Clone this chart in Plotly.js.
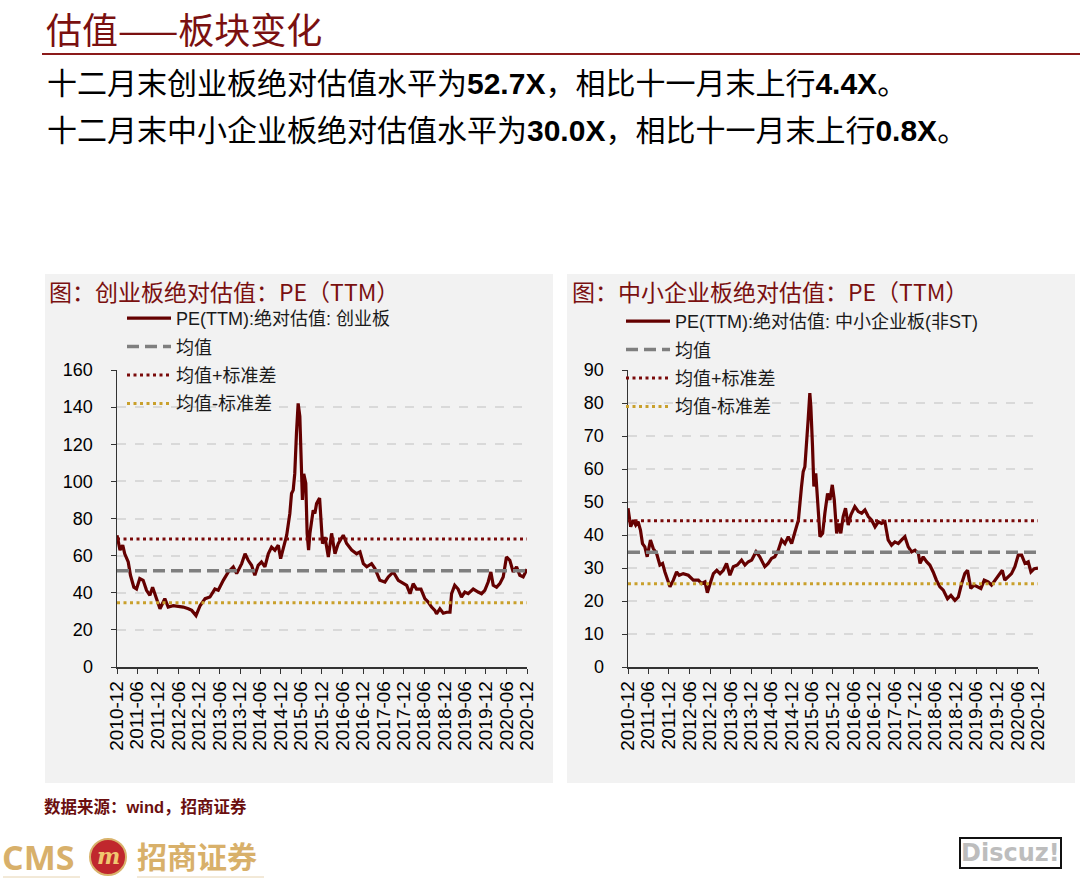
<!DOCTYPE html>
<html>
<head>
<meta charset="utf-8">
<script src="https://cdn.plot.ly/plotly-3.0.1.min.js"></script>
<style>
  html, body { margin: 0; padding: 0; background: #fff; }
  #plot { width: 1080px; height: 879px; }
</style>
</head>
<body>
<div id="plot"></div>
<script>
// 创业板 PE(TTM)
var cybDates = ['2010-12-31','2011-01-27','2011-02-20','2011-03-10','2011-04-10','2011-04-30','2011-05-30','2011-06-23',
  '2011-07-22','2011-08-21','2011-09-20','2011-10-20','2011-11-13','2011-12-12','2012-01-18','2012-03-01','2012-03-31',
  '2012-05-15','2012-06-29','2012-08-12','2012-09-27','2012-10-27','2012-12-04','2013-01-09','2013-02-23','2013-04-07',
  '2013-05-21','2013-06-20','2013-08-04','2013-09-18','2013-11-01','2013-12-01','2014-01-15','2014-02-14','2014-03-14',
  '2014-04-13','2014-05-12','2014-06-11','2014-07-10','2014-08-10','2014-09-09','2014-10-08','2014-11-07','2014-12-07',
  '2014-12-28','2015-01-21','2015-02-20','2015-03-20','2015-04-04','2015-04-19','2015-05-03','2015-05-18','2015-06-02',
  '2015-06-17','2015-07-01','2015-07-10','2015-07-22','2015-08-09','2015-08-21','2015-09-03','2015-09-15','2015-10-14',
  '2015-10-29','2015-11-13','2015-12-10','2016-01-05','2016-01-27','2016-02-26','2016-03-26','2016-04-25','2016-05-24',
  '2016-07-08','2016-08-07','2016-09-21','2016-11-04','2016-12-04','2017-01-03','2017-02-02','2017-03-17','2017-04-16',
  '2017-05-30','2017-07-14','2017-08-13','2017-09-27','2017-11-10','2017-12-25','2018-01-24','2018-02-23','2018-03-23',
  '2018-04-22','2018-05-31','2018-07-05','2018-08-04','2018-09-03','2018-10-02','2018-10-17','2018-11-16','2018-12-16',
  '2019-01-15','2019-02-14','2019-02-28','2019-03-28','2019-04-27','2019-05-27','2019-06-26','2019-07-26','2019-09-09',
  '2019-10-23','2019-11-22','2019-12-21','2020-01-20','2020-02-13','2020-03-05','2020-04-04','2020-05-03','2020-06-02',
  '2020-07-01','2020-07-31','2020-08-30','2020-09-29','2020-10-28','2020-11-27','2020-12-31'];
var cybPE = [71,63,65.6,61,56.6,49.4,43,42,
  47.6,46.7,41.3,38.6,43,37.7,31.4,36.8,32.3,
  33,32.6,32.3,31.4,30.5,27.7,33,36.8,37.7,
  42,41.3,46.7,51.2,53.9,50.3,55.7,61,57.5,
  54.8,49.4,54.8,56.6,53.9,61,64.6,62.9,65.6,
  58.4,64.6,71,82.7,93.5,95.3,104.3,126,142,
  135,113,90,104,99,72,63,72,84.5,
  82.7,88,91,66.5,70,59.3,72,61,66.5,
  71,66.5,63,61,62,55.7,54,55.7,53,
  46.7,45.8,48.5,51.2,46.7,44.9,44,39.5,44.9,
  42,42,36.8,35,32.3,30.5,28.6,31.4,29,
  29.5,29.5,39.5,44,42,37.7,40.4,39.5,42,
  40.4,39.5,41.3,45.8,51.2,44,43,44.9,48.5,
  59.3,57.5,51.2,53.9,49.4,48.5,52.7];

// 中小企业板(非ST) PE(TTM)
var zxbDates = ['2010-12-31','2011-01-24','2011-02-17','2011-03-10','2011-03-31','2011-04-21','2011-05-09','2011-05-30',
  '2011-06-20','2011-07-19','2011-08-13','2011-09-12','2011-10-11','2011-11-04','2011-11-25','2012-01-09','2012-02-08',
  '2012-03-08','2012-03-31','2012-05-06','2012-06-20','2012-08-04','2012-09-18','2012-10-17','2012-11-16','2012-12-07',
  '2013-01-01','2013-01-30','2013-03-01','2013-03-30','2013-04-28','2013-05-27','2013-06-26','2013-07-26','2013-08-31',
  '2013-10-08','2013-11-07','2013-12-07','2014-01-06','2014-02-14','2014-03-19','2014-05-03','2014-06-02','2014-07-02',
  '2014-07-31','2014-08-31','2014-09-30','2014-10-29','2014-11-28','2014-12-28','2015-01-27','2015-02-26','2015-03-26',
  '2015-04-10','2015-04-25','2015-05-09','2015-05-24','2015-06-08','2015-06-17','2015-07-02','2015-07-14','2015-07-31',
  '2015-08-12','2015-08-28','2015-09-06','2015-09-30','2015-10-20','2015-11-13','2015-12-04','2015-12-25','2016-01-12',
  '2016-02-02','2016-02-23','2016-03-10','2016-03-31','2016-04-21','2016-05-15','2016-06-08','2016-07-13','2016-08-13',
  '2016-09-12','2016-10-11','2016-11-10','2016-12-10','2017-01-09','2017-02-08','2017-03-08','2017-04-07','2017-05-06',
  '2017-06-05','2017-07-05','2017-08-04','2017-09-03','2017-10-02','2017-11-01','2017-12-01','2017-12-31','2018-01-30',
  '2018-02-14','2018-03-14','2018-04-13','2018-05-12','2018-06-11','2018-07-10','2018-08-10','2018-09-09','2018-10-17',
  '2018-11-16','2018-12-22','2019-01-21','2019-02-20','2019-03-20','2019-04-13','2019-05-12','2019-06-11','2019-07-10',
  '2019-08-10','2019-09-09','2019-10-14','2019-11-13','2019-12-13','2020-01-12','2020-02-17','2020-03-10','2020-04-10',
  '2020-05-09','2020-06-08','2020-07-08','2020-08-07','2020-09-06','2020-10-05','2020-10-29','2020-11-28','2020-12-31'];
var zxbPE = [48.1,42.5,44.5,43,44,41.5,37.4,36.4,
  33.4,38.5,35.9,34.4,30.9,31.4,28.8,24.3,26.3,
  28.8,27.8,28.3,27.8,26.3,26.3,25.3,25.8,22.5,
  25.3,28.3,29.3,28.3,29.3,31.4,27.8,30.4,30.9,
  32.4,30.9,31.9,32.4,34.9,33.4,30.4,31.4,32.9,
  33.4,35.4,38.5,37.4,39.5,37.4,41,44.5,54.7,
  59.2,60.7,66.8,74.9,83,79,66.8,54.7,58.7,
  53.7,44.5,39.5,40.5,46.6,52.6,50.6,55.2,50.6,
  40.5,43.5,40.5,45.6,48.1,43,46.1,48.6,47.1,
  46.6,47.6,45.6,44.5,42.5,44,43.5,44,38.5,
  36.9,37.9,37.4,38.5,39.5,36.4,34.9,35.4,34.4,
  31.4,33.4,31.9,30.9,28.8,26.3,24.3,23.3,20.7,
  21.7,20.2,21.2,25.3,28.3,29.3,23.8,24.8,24.3,
  23.8,26.3,25.8,24.8,26.3,27.8,29.3,26.3,27.3,
  28.3,30.4,33.9,33.9,31.4,31.9,28.8,29.8,30.0];

var cybMean = 51.8, cybPlus = 69.0, cybMinus = 34.6;
var zxbMean = 34.8, zxbPlus = 44.3, zxbMinus = 25.2;

var tickLabels = ['2010-12','2011-06','2011-12','2012-06','2012-12','2013-06','2013-12','2014-06','2014-12','2015-06',
  '2015-12','2016-06','2016-12','2017-06','2017-12','2018-06','2018-12','2019-06','2019-12','2020-06','2020-12'];
var tickVals = tickLabels.map(function(t){ return t + (t.slice(5) === '12' ? '-31' : '-30'); });
var xStart = '2010-12-31', xEnd = '2020-12-31';

var W = 1080, H = 879;
function fx(p){ return p / W; }
function fy(p){ return 1 - p / H; }

var lineRed = '#640000';
var cjk = 'Liberation Sans, Noto Sans CJK SC, sans-serif';

function series(xs, ys, name, xa, ya, lg){
  return {x: xs, y: ys, mode: 'lines', name: name, xaxis: xa, yaxis: ya, legend: lg, legendgroup: lg + name,
    line: {color: lineRed, width: 3.2}};
}
function hline(v, name, style, xa, ya, lg){
  return {x: [xStart, xEnd], y: [v, v], mode: 'lines', name: name, xaxis: xa, yaxis: ya, legend: lg,
    legendgroup: lg + name, line: style};
}
var meanStyle = {color: '#7f7f7f', width: 3.5, dash: '12px,6px'};
var plusStyle = {color: '#7a0a0a', width: 3, dash: '3px,3.5px'};
var minusStyle = {color: '#c9a02c', width: 3, dash: '3px,3.5px'};

var data = [
  series(cybDates, cybPE, 'PE(TTM):绝对估值: 创业板', 'x', 'y', 'legend'),
  hline(cybMean, '均值', meanStyle, 'x', 'y', 'legend'),
  hline(cybPlus, '均值+标准差', plusStyle, 'x', 'y', 'legend'),
  hline(cybMinus, '均值-标准差', minusStyle, 'x', 'y', 'legend'),
  series(zxbDates, zxbPE, 'PE(TTM):绝对估值: 中小企业板(非ST)', 'x2', 'y2', 'legend2'),
  hline(zxbMean, '均值', meanStyle, 'x2', 'y2', 'legend2'),
  hline(zxbPlus, '均值+标准差', plusStyle, 'x2', 'y2', 'legend2'),
  hline(zxbMinus, '均值-标准差', minusStyle, 'x2', 'y2', 'legend2')
];

function xAxis(d0, d1, anchor){
  return {domain: [fx(d0), fx(d1)], anchor: anchor, type: 'date', range: [xStart, xEnd],
    tickmode: 'array', tickvals: tickVals, ticktext: tickLabels, tickangle: -90,
    ticks: 'outside', ticklen: 5, tickcolor: '#333', showline: true, linecolor: '#333', linewidth: 1.5,
    showgrid: false, zeroline: false, fixedrange: true,
    tickfont: {family: 'Liberation Sans, Arial, sans-serif', size: 19, color: '#000'}};
}
function yAxis(anchor, top, step){
  return {domain: [fy(667), fy(370)], anchor: anchor, range: [0, top], dtick: step, tick0: 0,
    ticks: 'outside', ticklen: 5, tickcolor: '#333', showline: true, linecolor: '#333', linewidth: 1.5,
    showgrid: true, gridcolor: '#d9d9d9', gridwidth: 2, griddash: 'dash', zeroline: false, fixedrange: true,
    ticklabelstandoff: 14,
    tickfont: {family: 'Liberation Sans, Arial, sans-serif', size: 18, color: '#000'}};
}

var legendBase = {bgcolor: 'rgba(0,0,0,0)', borderwidth: 0, xanchor: 'left', yanchor: 'top',
  traceorder: 'grouped', tracegroupgap: 2, itemwidth: 44,
  font: {family: cjk, size: 18, color: '#1a1a1a'}};

var layout = {
  width: W, height: H,
  margin: {l: 0, r: 0, t: 0, b: 0, autoexpand: false},
  paper_bgcolor: '#ffffff',
  plot_bgcolor: 'rgba(0,0,0,0)',
  showlegend: true,
  xaxis: xAxis(117, 527, 'y'),
  yaxis: yAxis('x', 160, 20),
  xaxis2: xAxis(628, 1038, 'y2'),
  yaxis2: yAxis('x2', 90, 10),
  legend: Object.assign({}, legendBase, {x: fx(122), y: fy(300)}),
  legend2: Object.assign({}, legendBase, {x: fx(621), y: fy(303)}),
  shapes: [
    {type: 'line', xref: 'paper', yref: 'paper', x0: fx(42), x1: 1, y0: fy(54), y1: fy(54),
      line: {color: '#8b1a1a', width: 2}},
    {type: 'rect', xref: 'paper', yref: 'paper', x0: fx(45), x1: fx(553), y0: fy(783), y1: fy(274),
      fillcolor: '#f2f2f2', line: {width: 0}, layer: 'below'},
    {type: 'rect', xref: 'paper', yref: 'paper', x0: fx(567), x1: fx(1075), y0: fy(783), y1: fy(274),
      fillcolor: '#f2f2f2', line: {width: 0}, layer: 'below'},
    {type: 'line', xref: 'paper', yref: 'paper', x0: fx(3), x1: fx(80), y0: fy(877), y1: fy(877),
      line: {color: '#e6d3b0', width: 1}},
    {type: 'line', xref: 'paper', yref: 'paper', x0: fx(137), x1: fx(264), y0: fy(877), y1: fy(877),
      line: {color: '#e6d3b0', width: 1}},
    {type: 'circle', xref: 'paper', yref: 'paper', x0: fx(90), x1: fx(126), y0: fy(875), y1: fy(839),
      fillcolor: '#c0272d', line: {color: '#d9b36c', width: 2}}
  ],
  annotations: [
    {text: '估值——板块变化', xref: 'paper', yref: 'paper', x: fx(44), y: fy(28), xanchor: 'left', yanchor: 'middle',
      showarrow: false, font: {family: 'Noto Sans CJK SC', size: 36, color: '#7a1010'}},
    {text: '十二月末创业板绝对估值水平为<b>52.7X</b>，相比十一月末上行<b>4.4X</b>。', xref: 'paper', yref: 'paper',
      x: fx(45), y: fy(83), xanchor: 'left', yanchor: 'middle', showarrow: false,
      font: {family: cjk, size: 30, color: '#000'}},
    {text: '十二月末中小企业板绝对估值水平为<b>30.0X</b>，相比十一月末上行<b>0.8X</b>。', xref: 'paper', yref: 'paper',
      x: fx(45), y: fy(130), xanchor: 'left', yanchor: 'middle', showarrow: false,
      font: {family: cjk, size: 30, color: '#000'}},
    {text: '图：创业板绝对估值：PE（TTM）', xref: 'paper', yref: 'paper', x: fx(47), y: fy(291),
      xanchor: 'left', yanchor: 'middle', showarrow: false,
      font: {family: 'Noto Sans CJK SC', size: 23, color: '#7a1010'}},
    {text: '图：中小企业板绝对估值：PE（TTM）', xref: 'paper', yref: 'paper', x: fx(570), y: fy(291),
      xanchor: 'left', yanchor: 'middle', showarrow: false,
      font: {family: 'Noto Sans CJK SC', size: 23, color: '#7a1010'}},
    {text: '<b>数据来源：wind，招商证券</b>', xref: 'paper', yref: 'paper', x: fx(42), y: fy(806),
      xanchor: 'left', yanchor: 'middle', showarrow: false,
      font: {family: cjk, size: 16.5, color: '#6b0f0f'}},
    {text: '<b>CMS</b>', xref: 'paper', yref: 'paper', x: fx(0), y: fy(857), xanchor: 'left', yanchor: 'middle',
      showarrow: false, font: {family: 'Open Sans, sans-serif', size: 34, color: '#d8b06a'}},
    {text: '<b><i>m</i></b>', xref: 'paper', yref: 'paper', x: fx(108), y: fy(856), xanchor: 'center', yanchor: 'middle',
      showarrow: false, font: {family: 'DejaVu Serif, serif', size: 22, color: '#f0c870'}},
    {text: '<b>招商证券</b>', xref: 'paper', yref: 'paper', x: fx(135), y: fy(855), xanchor: 'left', yanchor: 'middle',
      showarrow: false, font: {family: 'Noto Sans CJK SC', size: 30, color: '#d8b06a'}},
    {text: '<b>Discuz!</b>', xref: 'paper', yref: 'paper', x: fx(1010), y: fy(853), xanchor: 'center', yanchor: 'middle',
      showarrow: false, bgcolor: '#ffffff', bordercolor: '#111', borderwidth: 2, borderpad: 0,
      font: {family: 'DejaVu Sans, sans-serif', size: 24, color: '#bdbdbd'}}
  ]
};

Plotly.newPlot('plot', data, layout, {staticPlot: true, displayModeBar: false});
</script>
</body>
</html>
